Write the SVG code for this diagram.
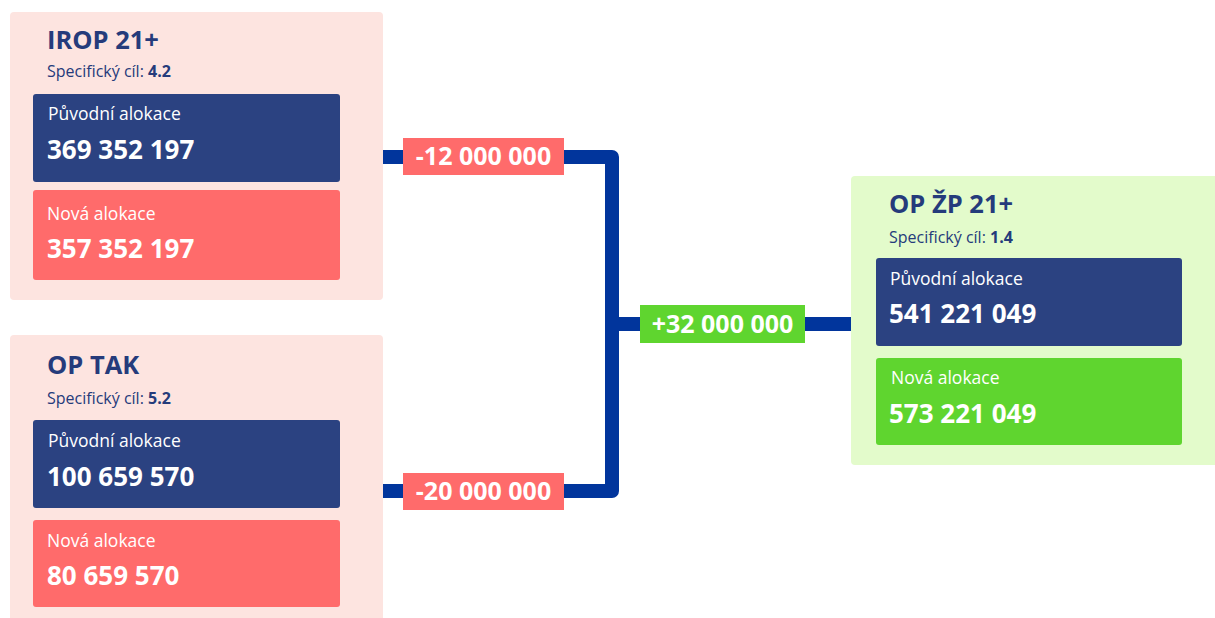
<svg xmlns="http://www.w3.org/2000/svg" width="1215" height="618" viewBox="0 0 1215 618">
<style>
.t{font-family:"Open Sans","Liberation Sans",sans-serif}
.title{font-size:25.5px;font-weight:700;fill:#253b7b}
.sub{font-size:16px;fill:#253b7b}
.lbl{font-size:17.5px;fill:#fff}
.num{font-size:26px;font-weight:700;fill:#fff}
.chg{font-size:25px;font-weight:700;fill:#fff}
.pinkp{fill:#fde4e0}
.greenp{fill:#e3fbcb}
.navy{fill:#2b4281}
.red{fill:#ff6b6b}
.grn{fill:#5fd52f}
.conn{fill:none;stroke:#01359c;stroke-width:14;stroke-linejoin:round}
</style>
<rect width="1215" height="618" fill="#fff"/>
<g id="connectors">
<path class="conn" d="M383,157 H612 V491 H383"/>
<path class="conn" d="M612,324 H852"/>
<g id="chg1"><rect x="403" y="138" width="161" height="37" class="red"/><text class="t chg" x="483.5" y="165" text-anchor="middle">-12 000 000</text></g>
<g id="chg2"><rect x="403" y="473" width="161" height="37" class="red"/><text class="t chg" x="483.5" y="500" text-anchor="middle">-20 000 000</text></g>
<g id="chg3"><rect x="640" y="305" width="165" height="38" class="grn"/><text class="t chg" x="722.5" y="333" text-anchor="middle">+32 000 000</text></g>
</g>
<g id="irop">
<rect x="10" y="12" width="373" height="288" rx="4" class="pinkp"/>
<text class="t title" x="47" y="49">IROP 21+</text>
<text class="t sub" x="47" y="77">Specifický cíl: <tspan font-weight="700">4.2</tspan></text>
<rect x="33" y="94" width="307" height="88" rx="3" class="navy"/>
<text class="t lbl" x="48" y="120">Původní alokace</text>
<text class="t num" x="47" y="159">369 352 197</text>
<rect x="33" y="190" width="307" height="90" rx="3" class="red"/>
<text class="t lbl" x="47" y="220">Nová alokace</text>
<text class="t num" x="47" y="258">357 352 197</text>
</g>
<g id="optak">
<rect x="10" y="335" width="373" height="290" rx="4" class="pinkp"/>
<text class="t title" x="47" y="374">OP TAK</text>
<text class="t sub" x="47" y="404">Specifický cíl: <tspan font-weight="700">5.2</tspan></text>
<rect x="33" y="420" width="307" height="88" rx="3" class="navy"/>
<text class="t lbl" x="48" y="447">Původní alokace</text>
<text class="t num" x="47" y="486">100 659 570</text>
<rect x="33" y="520" width="307" height="87" rx="3" class="red"/>
<text class="t lbl" x="47" y="547">Nová alokace</text>
<text class="t num" x="47" y="585">80 659 570</text>
</g>
<g id="opzp">
<rect x="851" y="176" width="370" height="289" rx="4" class="greenp"/>
<text class="t title" x="889" y="213">OP ŽP 21+</text>
<text class="t sub" x="889" y="243">Specifický cíl: <tspan font-weight="700">1.4</tspan></text>
<rect x="876" y="258" width="306" height="88" rx="3" class="navy"/>
<text class="t lbl" x="890" y="285">Původní alokace</text>
<text class="t num" x="889" y="323">541 221 049</text>
<rect x="876" y="358" width="306" height="87" rx="3" class="grn"/>
<text class="t lbl" x="891" y="384">Nová alokace</text>
<text class="t num" x="889" y="423">573 221 049</text>
</g>
</svg>
